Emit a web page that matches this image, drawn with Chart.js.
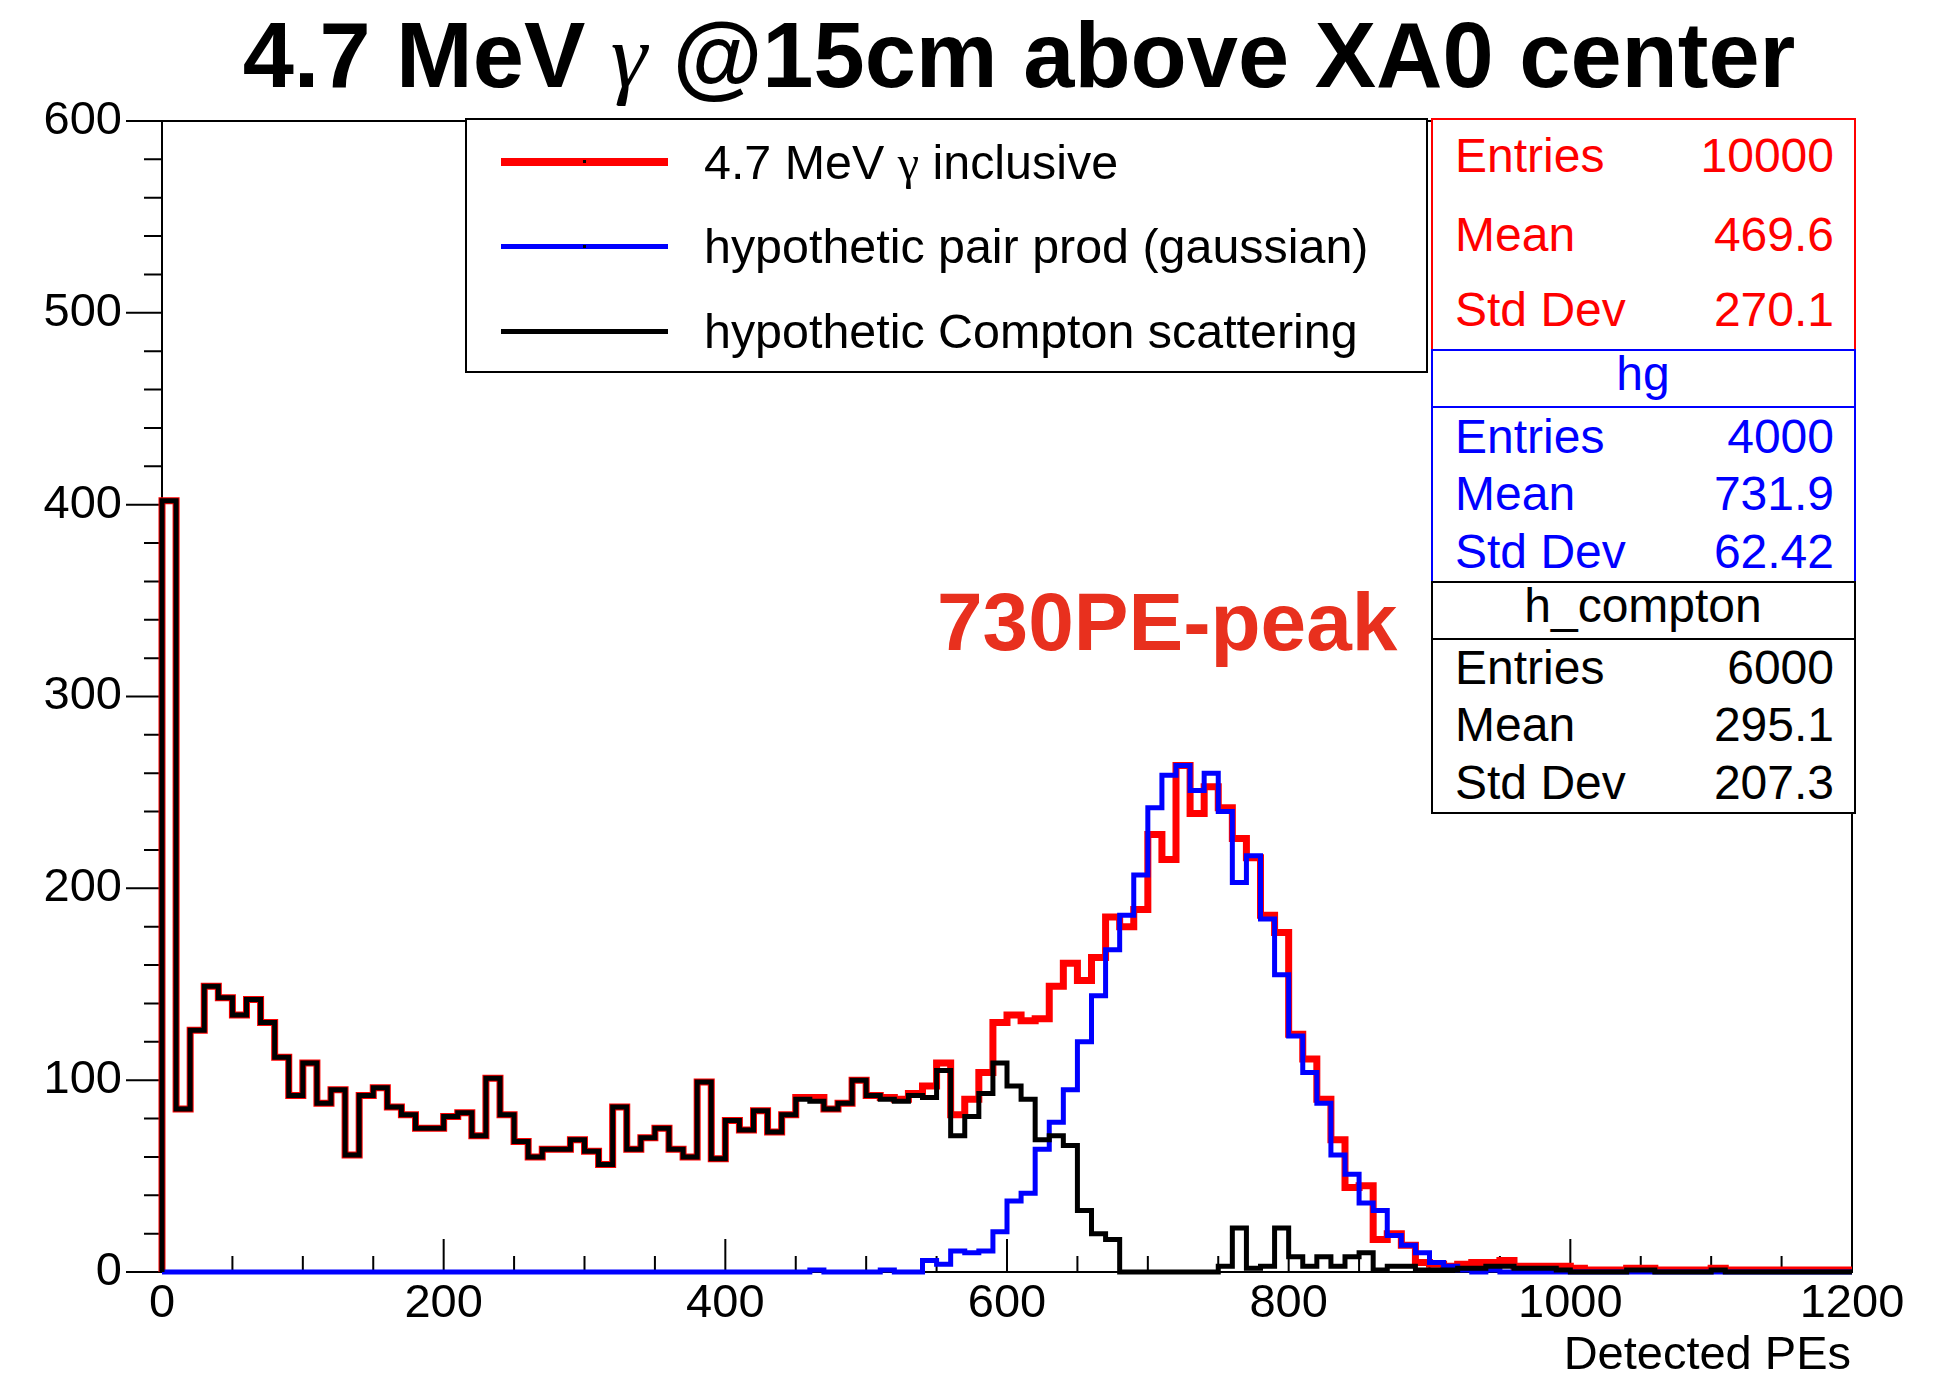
<!DOCTYPE html>
<html>
<head>
<meta charset="utf-8">
<title>4.7 MeV gamma @15cm above XA0 center</title>
<script src="https://cdn.jsdelivr.net/npm/chart.js@4.4.1/dist/chart.umd.min.js"></script>
<style>
  html, body { margin: 0; padding: 0; background: #fff; }
  #stage { position: relative; width: 1952px; height: 1375px; overflow: hidden; }
  #plot { position: absolute; left: 0; top: 0; }
  .txt { position: absolute; white-space: nowrap; line-height: 1; font-family: "Liberation Sans", Arial, Helvetica, sans-serif; color: #000; }
  .box { position: absolute; box-sizing: border-box; background: #fff; }
  .swatch { position: absolute; }
</style>
</head>
<body>
<div id="stage"><canvas id="plot" width="1952" height="1375"></canvas></div>
<script>
// binning of the three histograms (10 PE per bin, 0..1200)
const xMin = 0;
const xMax = 1200;
const binWidth = 10;
const yMax = 600;

// h_compton (black)
const compton = [
  402, 85, 126, 149, 143, 134, 142, 130, 112, 92,
  109, 88, 95, 61, 92, 96, 86, 82, 75, 75,
  81, 83, 71, 101, 82, 68, 60, 64, 64, 69,
  63, 56, 86, 64, 70, 75, 64, 60, 99, 59,
  79, 74, 84, 73, 82, 90, 89, 85, 88, 100,
  92, 90, 89, 92, 91, 105, 71, 81, 93, 109,
  97, 90, 69, 71, 66, 32, 20, 17, 0, 0,
  0, 0, 0, 0, 0, 3, 23, 2, 3, 23,
  8, 3, 8, 3, 8, 10, 1, 3, 3, 1,
  1, 1, 2, 2, 3, 3, 2, 2, 2, 1,
  0, 0, 0, 0, 1, 1, 0, 0, 0, 0,
  1, 0, 0, 0, 0, 0, 0, 0, 0, 0
];

// hg, pair production (blue)
const pairProd = [
  0, 0, 0, 0, 0, 0, 0, 0, 0, 0,
  0, 0, 0, 0, 0, 0, 0, 0, 0, 0,
  0, 0, 0, 0, 0, 0, 0, 0, 0, 0,
  0, 0, 0, 0, 0, 0, 0, 0, 0, 0,
  0, 0, 0, 0, 0, 0, 1, 0, 0, 0,
  0, 1, 0, 0, 6, 4, 11, 10, 11, 21,
  37, 41, 64, 78, 95, 120, 144, 168, 186, 207,
  242, 259, 264, 251, 260, 240, 203, 217, 184, 155,
  123, 104, 88, 61, 51, 36, 32, 19, 14, 10,
  5, 3, 1, 0, 1, 0, 0, 0, 0, 0,
  0, 0, 0, 0, 0, 0, 0, 0, 0, 0,
  0, 0, 0, 0, 0, 0, 0, 0, 0, 0
];

// 4.7 MeV gamma inclusive (red)
const inclusive = [
  402, 85, 126, 149, 143, 134, 142, 130, 112, 92,
  109, 88, 95, 61, 92, 96, 86, 82, 75, 75,
  81, 83, 71, 101, 82, 68, 60, 64, 64, 69,
  63, 56, 86, 64, 70, 75, 64, 60, 99, 59,
  79, 74, 84, 73, 82, 91, 91, 85, 88, 100,
  92, 91, 90, 93, 97, 109, 82, 90, 104, 130,
  134, 131, 132, 149, 161, 152, 164, 185, 180, 189,
  228, 215, 264, 239, 253, 242, 226, 216, 186, 177,
  124, 111, 90, 69, 44, 45, 17, 20, 14, 5,
  4, 3, 4, 5, 5, 6, 3, 3, 3, 3,
  2, 1, 1, 1, 2, 2, 1, 1, 1, 1,
  2, 1, 1, 1, 1, 1, 1, 1, 1, 1
];

const legendLabels = ["4.7 MeV \u03b3 inclusive", "hypothetic pair prod (gaussian)", "hypothetic Compton scattering"];
const statLabels = ["Entries", "Mean", "Std Dev"];
const statsInclusive = ["10000", "469.6", "270.1"];
const statsPair = ["4000", "731.9", "62.42"];
const statsCompton = ["6000", "295.1", "207.3"];

const SANS = '"Liberation Sans", Arial, Helvetica, sans-serif';
const stage = document.getElementById("stage");

// step outline: start on the baseline, one point per bin low edge, close at xMax
const histPoints = (counts) => {
  const pts = [{ x: xMin, y: 0 }];
  counts.forEach((c, i) => pts.push({ x: xMin + i * binWidth, y: c }));
  pts.push({ x: xMin + counts.length * binWidth, y: counts[counts.length - 1] });
  return pts;
};

// ROOT style frame, outward y ticks, inward x ticks
const frameTicks = {
  id: "frameTicks",
  beforeDatasetsDraw(chart) {
    const { ctx, chartArea: a, scales: { x, y } } = chart;
    ctx.save();
    ctx.strokeStyle = "#000";
    ctx.lineWidth = 2;
    ctx.strokeRect(a.left, a.top, a.right - a.left, a.bottom - a.top);
    ctx.beginPath();
    for (let v = xMin; v <= xMax; v += 50) {
      const px = x.getPixelForValue(v);
      const len = v % 200 === 0 ? 33 : 16;
      ctx.moveTo(px, a.bottom);
      ctx.lineTo(px, a.bottom - len);
    }
    for (let v = 0; v <= yMax; v += 20) {
      const py = y.getPixelForValue(v);
      const len = v % 100 === 0 ? 36 : 18;
      ctx.moveTo(a.left, py);
      ctx.lineTo(a.left - len, py);
    }
    ctx.stroke();
    ctx.restore();
  },
};

const lineStyle = { pointRadius: 0, stepped: true, fill: false, clip: false, borderJoinStyle: "miter", borderCapStyle: "butt" };

new Chart(document.getElementById("plot"), {
  type: "line",
  data: {
    datasets: [
      { ...lineStyle, label: legendLabels[0], data: histPoints(inclusive), borderColor: "#ff0000", borderWidth: 7, order: 3 },
      { ...lineStyle, label: legendLabels[1], data: histPoints(pairProd), borderColor: "#0000ff", borderWidth: 5, order: 2 },
      { ...lineStyle, label: legendLabels[2], data: histPoints(compton), borderColor: "#000000", borderWidth: 5, order: 1 },
    ],
  },
  options: {
    responsive: false,
    devicePixelRatio: 1,
    animation: false,
    events: [],
    layout: { padding: { left: 0, right: 100, top: 121, bottom: 0 } },
    plugins: { legend: { display: false }, tooltip: { enabled: false }, title: { display: false } },
    scales: {
      x: {
        type: "linear",
        min: xMin,
        max: xMax,
        grid: { display: false, drawTicks: false },
        border: { display: false },
        ticks: {
          stepSize: 200, padding: 4, maxRotation: 0, autoSkip: false, color: "#000",
          font: { family: SANS, size: 47 },
          callback: (v) => String(v),
        },
        afterFit: (s) => { s.height = 103; },
      },
      y: {
        type: "linear",
        min: 0,
        max: yMax,
        grid: { display: false, drawTicks: false },
        border: { display: false },
        ticks: { stepSize: 100, padding: 40, color: "#000", font: { family: SANS, size: 47 }, callback: (v) => String(v) },
        afterFit: (s) => { s.width = 162; },
      },
    },
  },
  plugins: [frameTicks],
});

// ---- overlay: title, legend, stats boxes, annotations ----
const addText = (html, x, baseline, size, opts = {}) => {
  const el = document.createElement("div");
  el.className = "txt";
  el.innerHTML = html;
  el.style.fontSize = size + "px";
  el.style.top = (baseline - 0.8465 * size) + "px";
  if (opts.bold) el.style.fontWeight = "bold";
  if (opts.color) el.style.color = opts.color;
  if (opts.align === "right") {
    el.style.right = (1952 - x) + "px";
  } else if (opts.align === "center") {
    el.style.left = x + "px";
    el.style.transform = "translateX(-50%)";
  } else {
    el.style.left = x + "px";
  }
  stage.appendChild(el);
  return el;
};

const addBox = (left, top, width, height, border) => {
  const el = document.createElement("div");
  el.className = "box";
  Object.assign(el.style, { left: left + "px", top: top + "px", width: width + "px", height: height + "px", border: border });
  stage.appendChild(el);
  return el;
};

const addRule = (left, top, width, height, color) => {
  const el = document.createElement("div");
  el.className = "swatch";
  Object.assign(el.style, { left: left + "px", top: top + "px", width: width + "px", height: height + "px", background: color });
  stage.appendChild(el);
};

// title
addText('4.7 MeV <span style="font-family:\'Liberation Serif\',serif;font-style:italic;font-weight:normal">\u03b3</span> @15cm above XA0 center',
  1019, 87, 92, { bold: true, align: "center" });

// legend
addBox(465, 118, 963, 255, "2px solid #000");
const legendColors = ["#ff0000", "#0000ff", "#000000"];
const legendWidths = [8, 5, 5];
const legendRows = [162, 246, 331];
legendRows.forEach((yy, i) => {
  addRule(501, yy - legendWidths[i] / 2, 167, legendWidths[i], legendColors[i]);
  const label = legendLabels[i].replace("\u03b3", '<span style="font-family:\'Liberation Serif\',serif">\u03b3</span>');
  addText(label, 704, yy + 17, 48.4);
});
addRule(583, 160, 3, 3, "#000");
addRule(583, 245, 3, 3, "#000");

// stats boxes
addBox(1431, 118, 425, 233, "2px solid #ff0000");
[173, 252, 327].forEach((b, i) => {
  addText(statLabels[i], 1455, b, 48, { color: "#ff0000" });
  addText(statsInclusive[i], 1834, b, 48, { color: "#ff0000", align: "right" });
});

addBox(1431, 349, 425, 234, "2px solid #0000ff");
addRule(1431, 406, 425, 2, "#0000ff");
addText("hg", 1643, 391, 48, { color: "#0000ff", align: "center" });
[454, 511, 569].forEach((b, i) => {
  addText(statLabels[i], 1455, b, 48, { color: "#0000ff" });
  addText(statsPair[i], 1834, b, 48, { color: "#0000ff", align: "right" });
});

addBox(1431, 581, 425, 233, "2px solid #000");
addRule(1431, 638, 425, 2, "#000");
addText("h_compton", 1643, 623, 48, { align: "center" });
[685, 742, 800].forEach((b, i) => {
  addText(statLabels[i], 1455, b, 48);
  addText(statsCompton[i], 1834, b, 48, { align: "right" });
});

// annotation and axis title
addText("730PE-peak", 937, 650, 82, { bold: true, color: "#e8301e" });
addText("Detected PEs", 1851, 1369, 47, { align: "right" });
</script>
</body>
</html>
